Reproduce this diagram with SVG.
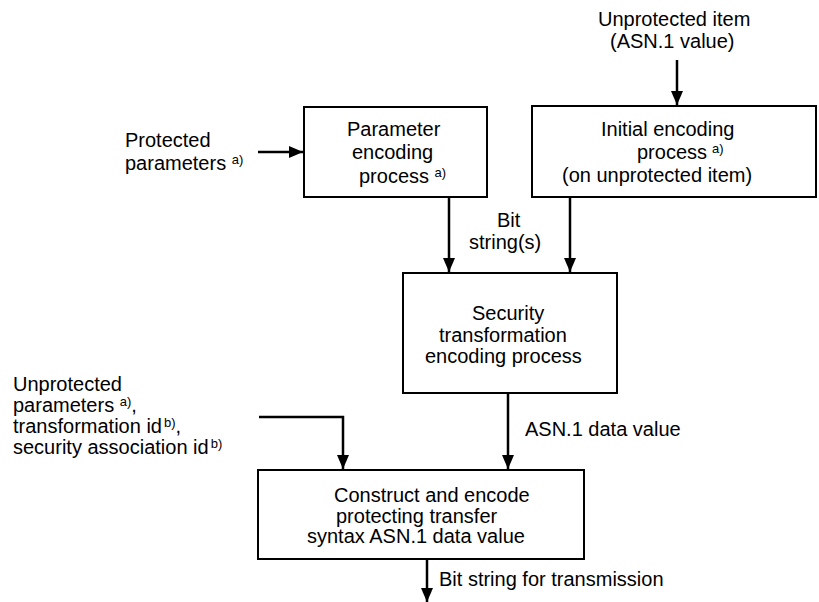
<svg xmlns="http://www.w3.org/2000/svg" width="819" height="602" viewBox="0 0 819 602">
  <style>
    .box { fill: #ffffff; stroke: #000000; stroke-width: 2; }
    .lbl { font-family: "Liberation Sans", Arial, sans-serif; font-size: 20px; fill: #000000; }
    .sup { font-size: 13px; }
    .wire { fill: none; stroke: #000000; stroke-width: 2.5; }
  </style>
  <defs>
    <marker id="arrow" markerUnits="userSpaceOnUse" markerWidth="14" markerHeight="12" refX="14" refY="6" orient="auto">
      <path d="M0,0 L14,6 L0,12 Z" fill="#000000"/>
    </marker>
  </defs>

  <rect width="819" height="602" fill="#ffffff"/>

  <!-- free-standing input / output labels -->
  <g id="label-protected-parameters">
    <text class="lbl" x="125" y="147">Protected</text>
    <text class="lbl" x="125" y="170">parameters <tspan class="sup" dy="-6">a)</tspan></text>
  </g>
  <g id="label-unprotected-item">
    <text class="lbl" x="598" y="26">Unprotected item</text>
    <text class="lbl" x="610" y="48">(ASN.1 value)</text>
  </g>
  <g id="label-bit-strings">
    <text class="lbl" x="497" y="227">Bit</text>
    <text class="lbl" x="469" y="249">string(s)</text>
  </g>
  <g id="label-unprotected-parameters">
    <text class="lbl" x="13" y="391">Unprotected</text>
    <text class="lbl" x="13" y="412">parameters <tspan class="sup" dy="-6">a)</tspan><tspan dy="6">,</tspan></text>
    <text class="lbl" x="13" y="433">transformation id<tspan class="sup" dx="2" dy="-6">b)</tspan><tspan dy="6">,</tspan></text>
    <text class="lbl" x="13" y="454">security association id<tspan class="sup" dx="2" dy="-6">b)</tspan></text>
  </g>
  <g id="label-asn1-data-value">
    <text class="lbl" x="525" y="436">ASN.1 data value</text>
  </g>
  <g id="label-bit-string-transmission">
    <text class="lbl" x="439" y="586">Bit string for transmission</text>
  </g>

  <!-- process boxes -->
  <g id="parameter-encoding">
    <rect class="box" x="304" y="107" width="183" height="90"/>
    <text class="lbl" x="347" y="136">Parameter</text>
    <text class="lbl" x="352" y="159">encoding</text>
    <text class="lbl" x="359" y="183">process <tspan class="sup" dy="-6">a)</tspan></text>
  </g>
  <g id="initial-encoding">
    <rect class="box" x="532" y="106" width="284" height="91"/>
    <text class="lbl" x="601" y="136">Initial encoding</text>
    <text class="lbl" x="637" y="159">process<tspan class="sup" dx="5" dy="-6">a)</tspan></text>
    <text class="lbl" x="562" y="182">(on unprotected item)</text>
  </g>
  <g id="security-transformation">
    <rect class="box" x="403" y="273" width="214" height="120"/>
    <text class="lbl" x="472" y="320">Security</text>
    <text class="lbl" x="439" y="342">transformation</text>
    <text class="lbl" x="425" y="363">encoding process</text>
  </g>
  <g id="construct-encode">
    <rect class="box" x="258" y="470" width="326" height="89"/>
    <text class="lbl" x="334" y="502">Construct and encode</text>
    <text class="lbl" x="336" y="523">protecting transfer</text>
    <text class="lbl" x="307" y="543">syntax ASN.1 data value</text>
  </g>

  <!-- connectors -->
  <g id="connectors">
    <line class="wire" x1="258" y1="152" x2="303" y2="152" marker-end="url(#arrow)"/>
    <line class="wire" x1="677" y1="60" x2="677" y2="105" marker-end="url(#arrow)"/>
    <line class="wire" x1="449" y1="197" x2="449" y2="272" marker-end="url(#arrow)"/>
    <line class="wire" x1="570" y1="197" x2="570" y2="272" marker-end="url(#arrow)"/>
    <line class="wire" x1="508" y1="393" x2="508" y2="469" marker-end="url(#arrow)"/>
    <polyline class="wire" points="259,417 343,417 343,469" marker-end="url(#arrow)"/>
    <line class="wire" x1="427" y1="559" x2="427" y2="602" marker-end="url(#arrow)"/>
  </g>
</svg>
